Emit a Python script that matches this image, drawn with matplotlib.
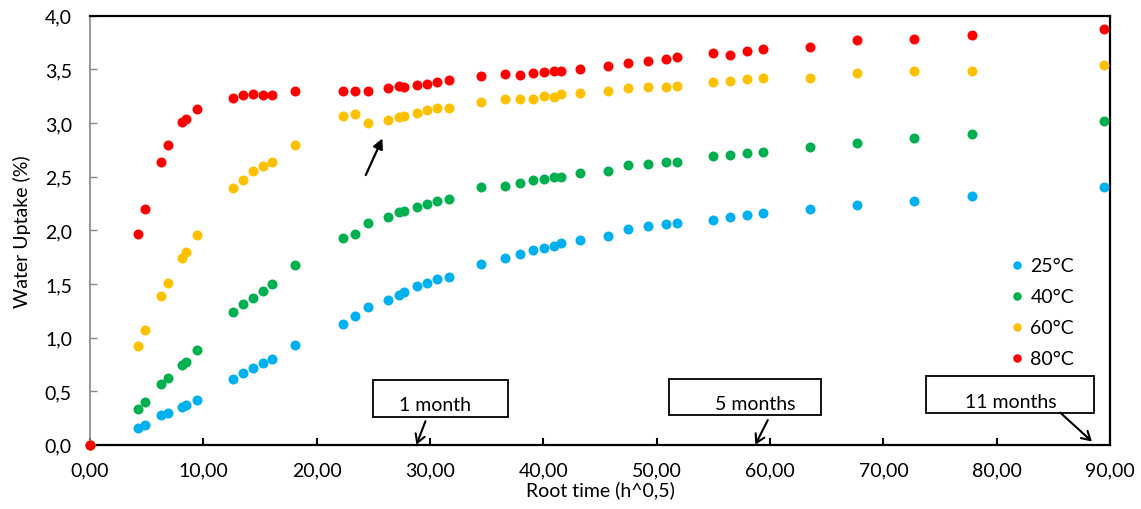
import matplotlib
matplotlib.use("Agg")
import matplotlib.pyplot as plt
from matplotlib.patches import Rectangle
from matplotlib.ticker import FuncFormatter, MultipleLocator

plt.rcParams['font.family'] = ['Lato', 'DejaVu Sans']

root_time = [0, 4.2, 4.82, 6.24, 6.88, 8.09, 8.45, 9.47, 12.59, 13.5, 14.38, 15.26, 16.03,
             18.1, 22.3, 23.4, 24.5, 26.33, 27.24, 27.69, 28.86, 29.77, 30.6, 31.7, 34.54,
             36.6, 37.9, 39.1, 40.07, 40.95, 41.54, 43.2, 45.66, 47.45, 49.2, 50.84, 51.78,
             54.96, 56.49, 57.99, 59.37, 63.49, 67.7, 72.67, 77.79, 89.44]

uptake_25 = [0, 0.152, 0.18, 0.273, 0.30, 0.348, 0.37, 0.42, 0.61, 0.665, 0.717, 0.764, 0.80,
             0.93, 1.127, 1.20, 1.28, 1.352, 1.40, 1.42, 1.477, 1.505, 1.548, 1.567, 1.69,
             1.744, 1.778, 1.82, 1.837, 1.856, 1.884, 1.91, 1.95, 2.008, 2.04, 2.055, 2.07,
             2.10, 2.123, 2.14, 2.16, 2.20, 2.232, 2.275, 2.32, 2.40]
uptake_40 = [0, 0.33, 0.40, 0.565, 0.627, 0.745, 0.773, 0.879, 1.24, 1.31, 1.37, 1.43, 1.50,
             1.68, 1.93, 1.97, 2.07, 2.12, 2.17, 2.176, 2.22, 2.247, 2.27, 2.288, 2.40,
             2.415, 2.44, 2.468, 2.48, 2.50, 2.50, 2.536, 2.55, 2.61, 2.62, 2.64, 2.64,
             2.69, 2.70, 2.717, 2.73, 2.78, 2.813, 2.857, 2.90, 3.015]
uptake_60 = [0, 0.92, 1.07, 1.39, 1.51, 1.74, 1.80, 1.96, 2.39, 2.47, 2.55, 2.60, 2.64,
             2.80, 3.07, 3.08, 3.00, 3.027, 3.056, 3.068, 3.096, 3.124, 3.14, 3.14, 3.198,
             3.22, 3.223, 3.226, 3.25, 3.245, 3.27, 3.28, 3.295, 3.326, 3.34, 3.34, 3.35,
             3.385, 3.394, 3.413, 3.42, 3.416, 3.466, 3.487, 3.484, 3.54]
uptake_80 = [0, 1.97, 2.20, 2.64, 2.80, 3.01, 3.04, 3.13, 3.23, 3.26, 3.27, 3.26, 3.26,
             3.30, 3.30, 3.30, 3.30, 3.326, 3.345, 3.34, 3.357, 3.366, 3.38, 3.406, 3.44,
             3.46, 3.45, 3.466, 3.478, 3.49, 3.49, 3.506, 3.534, 3.56, 3.58, 3.60, 3.62,
             3.65, 3.637, 3.67, 3.69, 3.71, 3.776, 3.78, 3.823, 3.88]

series_labels = ['25°C', '40°C', '60°C', '80°C']
series_colors = ['#00B0F0', '#00B050', '#FFC000', '#FF0000']

annot_labels = ['1 month', '5 months', '11 months']

fig = plt.figure(figsize=(11.41, 5.10), dpi=100)
ax = fig.add_axes([0.0789, 0.126, 0.894, 0.841])

for ys, lab, col in zip([uptake_25, uptake_40, uptake_60, uptake_80], series_labels, series_colors):
    ax.plot(root_time, ys, 'o', color=col, markersize=7.2, markeredgewidth=0,
            label=lab, clip_on=False, zorder=3)

ax.set_xlim(0, 90)
ax.set_ylim(0, 4)
ax.xaxis.set_major_locator(MultipleLocator(10))
ax.yaxis.set_major_locator(MultipleLocator(0.5))
ax.xaxis.set_major_formatter(FuncFormatter(lambda v, p: f"{v:.2f}".replace('.', ',')))
ax.yaxis.set_major_formatter(FuncFormatter(lambda v, p: f"{v:.1f}".replace('.', ',')))
ax.tick_params(axis='x', direction='in', length=5, width=1.5, color='black',
               labelsize=14, pad=12)
ax.tick_params(axis='y', direction='in', length=5, width=1, color='#868686',
               labelsize=14, pad=13)

for s in ['top', 'right', 'bottom']:
    ax.spines[s].set_color('black')
    ax.spines[s].set_linewidth(1.6)
ax.spines['left'].set_color('#868686')
ax.spines['left'].set_linewidth(1.2)

ax.set_xlabel('Root time (h^0,5)', fontsize=14, labelpad=1)
ax.set_ylabel('Water Uptake (%)', fontsize=14, labelpad=10)

leg = ax.legend(loc='upper left', bbox_to_anchor=(0.897, 0.455), frameon=False,
                fontsize=14, handlelength=0.4, handletextpad=0.5, labelspacing=0.72,
                markerscale=0.85, borderaxespad=0)

# annotation boxes
boxes = [(25.0, 0.26, 11.9, 0.34), (51.1, 0.28, 13.4, 0.33), (73.8, 0.30, 14.8, 0.34)]
text_pos = [(30.4, 0.375), (58.7, 0.385), (81.2, 0.405)]
arrows = [((29.6, 0.22), (28.8, 0.0)), ((59.8, 0.23), (58.7, 0.0)), ((85.6, 0.30), (88.4, 0.03))]
for (bx, by, bw, bh), (tx, ty), (a0, a1), lab in zip(boxes, text_pos, arrows, annot_labels):
    ax.add_patch(Rectangle((bx, by), bw, bh, facecolor='white', edgecolor='black',
                           linewidth=1.3, zorder=4, clip_on=False))
    ax.text(tx, ty, lab, ha='center', va='center', fontsize=14, zorder=5)
    ax.annotate('', xy=a1, xytext=a0,
                arrowprops=dict(arrowstyle='->,head_length=0.6,head_width=0.35',
                                color='black', lw=1.5, shrinkA=0, shrinkB=0),
                zorder=5, annotation_clip=False)

ax.annotate('', xy=(25.8, 2.857), xytext=(24.33, 2.515),
            arrowprops=dict(arrowstyle='-|>,head_length=0.6,head_width=0.3',
                            color='black', lw=1.6, shrinkA=0, shrinkB=0), zorder=5)

fig.savefig('out.png', dpi=100)
